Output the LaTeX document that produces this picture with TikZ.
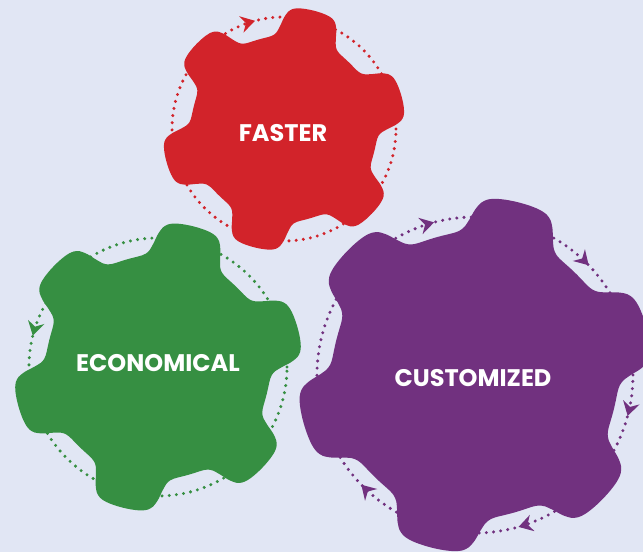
\documentclass[tikz,border=0pt]{standalone}
\usepackage{fontspec}
\setmainfont{Poppins}
\usetikzlibrary{arrows.meta,decorations.markings}
\definecolor{bgc}{HTML}{E1E6F4}
\definecolor{gred}{HTML}{D2232A}
\definecolor{ggreen}{HTML}{368F42}
\definecolor{gpurple}{HTML}{71317F}
\tikzset{
  dotc/.style={line width=2.5pt, line cap=round, dash pattern=on 0pt off 5.4pt},
  tipc/.tip={Stealth[length=10.5pt,width=12.5pt,inset=3.5pt]},
  lbl/.style={text=white, font=\fontsize{18}{20}\selectfont\bfseries, inner sep=0pt}
}
\newcommand\gearshape[5]{%
  \fill[#5] plot[variable=\t, domain=0:358, samples=180, smooth cycle]
    ({#1+(#3+#4*tanh(2.6*cos(6*(\t-76)))/tanh(2.6))*cos(\t)},
     {#2+(#3+#4*tanh(2.6*cos(6*(\t-76)))/tanh(2.6))*sin(\t)});
}
\begin{document}
\begin{tikzpicture}[x=0.75pt,y=0.75pt]
\fill[bgc] (0,0) rectangle (643,552);
\useasboundingbox (0,0) rectangle (643,552);
\clip (0,0) rectangle (643,552);
% red gear
\draw[dotc, gred, postaction={decorate, decoration={markings,
   mark=at position 0.2917 with {\arrowreversed[gred]{tipc}}}}]
  (284,423) ++(0:112) arc[start angle=0, end angle=360, radius=112];
\gearshape{284}{423}{107.5}{14.5}{gred}
\node[lbl] (faster) at (283,419) {FASTER};
% green gear
\draw[dotc, ggreen, postaction={decorate, decoration={markings,
   mark=at position 0.461 with {\arrow[ggreen]{tipc}}}}]
  (158,185) ++(0:129) arc[start angle=0, end angle=360, radius=129];
\gearshape{158}{185}{128.5}{16.5}{ggreen}
\node[lbl] (economical) at (158,189) {ECONOMICAL};
% purple gear
\draw[dotc, gpurple, postaction={decorate, decoration={markings,
   mark=at position 0.1222 with {\arrowreversed[gpurple]{tipc}},
   mark=at position 0.2917 with {\arrowreversed[gpurple]{tipc}},
   mark=at position 0.6222 with {\arrowreversed[gpurple]{tipc}},
   mark=at position 0.7944 with {\arrowreversed[gpurple]{tipc}},
   mark=at position 0.9583 with {\arrowreversed[gpurple]{tipc}}}}]
  (475,177) ++(0:158) arc[start angle=0, end angle=360, radius=158];
\gearshape{475}{177}{160.5}{17.5}{gpurple}
\node[lbl] (customized) at (473,174) {CUSTOMIZED};
\end{tikzpicture}
\end{document}
